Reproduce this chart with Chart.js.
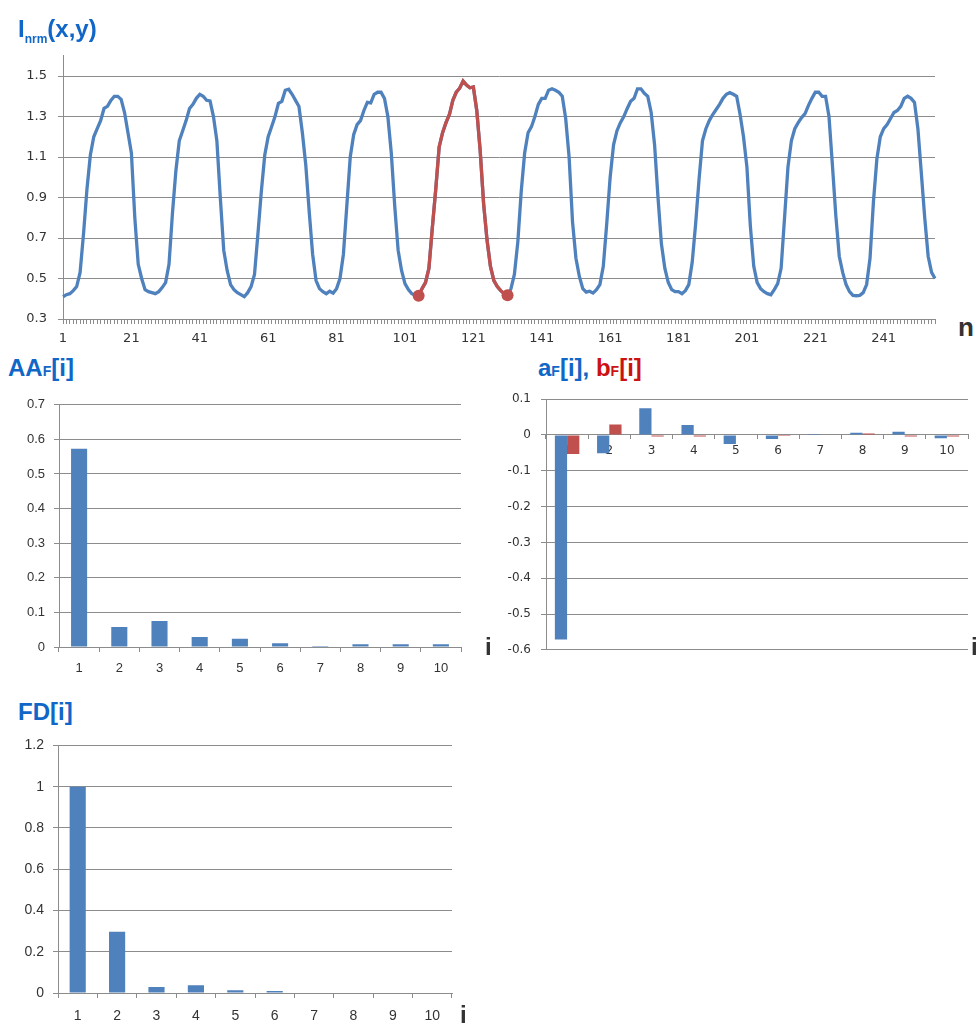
<!DOCTYPE html>
<html>
<head>
<meta charset="utf-8">
<title>Inrm / Fourier</title>
<script src="https://cdn.jsdelivr.net/npm/chart.js@4.4.1/dist/chart.umd.min.js"></script>
<style>
  html, body { margin: 0; padding: 0; background: #fff; }
  body { width: 977px; height: 1026px; position: relative; overflow: hidden; font-family: "Liberation Sans", Arial, sans-serif; }
  canvas { position: absolute; }
  .ttl { position: absolute; font-weight: bold; color: #1067c8; line-height: 1; white-space: nowrap; }
  .ttl .sm { font-size: 14px; }
  .ttl .red { color: #cc1111; }
  .ax { position: absolute; font-weight: bold; color: #333; font-size: 24px; line-height: 1; }
</style>
</head>
<body>

<canvas id="lineChart" width="945" height="312" style="left:0;top:37px"></canvas>
<canvas id="aaChart" width="471" height="289" style="left:0;top:388px"></canvas>
<canvas id="abChart" width="497" height="285" style="left:480px;top:382px"></canvas>
<canvas id="fdChart" width="462" height="295" style="left:0;top:728px"></canvas>

<div class="ttl" style="left:18px;top:17px;font-size:24px">I<span style="font-size:12px;position:relative;top:6px">nrm</span>(x,y)</div>
<div class="ax" style="left:958px;top:314px;font-size:26px">n</div>

<div class="ttl" style="left:8px;top:356px;font-size:24px">AA<span class="sm">F</span>[i]</div>
<div class="ttl" style="left:538px;top:356px;font-size:24px">a<span class="sm">F</span>[i], <span class="red">b<span class="sm">F</span>[i]</span></div>

<div class="ttl" style="left:18px;top:700px;font-size:24px">FD[i]</div>

<div class="ax" style="left:485px;top:635px">i</div>
<div class="ax" style="left:971px;top:635px">i</div>
<div class="ax" style="left:460px;top:1003px">i</div>

<script>
// Normalized intensity profile, n = 1..256
const lineLabels = Array.from({ length: 256 }, (_, i) => String(i + 1));
const lineValues = [
  0.41, 0.42, 0.425, 0.44, 0.46, 0.53, 0.72, 0.94, 1.11, 1.20,
  1.24, 1.28, 1.34, 1.35, 1.38, 1.40, 1.40, 1.385, 1.32, 1.22,
  1.12, 0.80, 0.57, 0.50, 0.445, 0.435, 0.43, 0.425, 0.435, 0.455,
  0.48, 0.57, 0.82, 1.03, 1.18, 1.23, 1.28, 1.34, 1.36, 1.39,
  1.41, 1.40, 1.38, 1.377, 1.30, 1.18, 0.90, 0.64, 0.54, 0.47,
  0.445, 0.43, 0.42, 0.41, 0.43, 0.46, 0.52, 0.72, 0.93, 1.11,
  1.20, 1.25, 1.30, 1.365, 1.375, 1.43, 1.435, 1.41, 1.38, 1.35,
  1.22, 1.06, 0.83, 0.62, 0.49, 0.45, 0.435, 0.425, 0.437, 0.428,
  0.45, 0.50, 0.62, 0.86, 1.10, 1.21, 1.26, 1.28, 1.33, 1.37,
  1.367, 1.41, 1.42, 1.42, 1.39, 1.30, 1.12, 0.86, 0.64, 0.54,
  0.475, 0.445, 0.425, 0.418, 0.415, 0.45, 0.48, 0.55, 0.75, 0.94,
  1.15, 1.22, 1.27, 1.31, 1.38, 1.42, 1.44, 1.475, 1.455, 1.442,
  1.446, 1.33, 1.13, 0.87, 0.69, 0.56, 0.49, 0.46, 0.44, 0.425,
  0.417, 0.45, 0.52, 0.68, 0.93, 1.12, 1.22, 1.25, 1.30, 1.36,
  1.39, 1.39, 1.43, 1.437, 1.43, 1.42, 1.40, 1.29, 1.10, 0.78,
  0.60, 0.51, 0.45, 0.433, 0.437, 0.428, 0.445, 0.47, 0.56, 0.77,
  1.00, 1.16, 1.23, 1.27, 1.30, 1.34, 1.375, 1.39, 1.437, 1.437,
  1.415, 1.40, 1.32, 1.16, 0.90, 0.67, 0.55, 0.48, 0.445, 0.435,
  0.435, 0.425, 0.44, 0.47, 0.58, 0.77, 0.99, 1.18, 1.24, 1.28,
  1.31, 1.335, 1.36, 1.39, 1.41, 1.418, 1.41, 1.40, 1.31, 1.20,
  1.05, 0.76, 0.56, 0.48, 0.45, 0.435, 0.425, 0.42, 0.445, 0.475,
  0.55, 0.80, 1.05, 1.18, 1.24, 1.27, 1.295, 1.314, 1.355, 1.39,
  1.42, 1.42, 1.40, 1.40, 1.30, 1.06, 0.81, 0.61, 0.53, 0.47,
  0.435, 0.417, 0.415, 0.417, 0.43, 0.47, 0.60, 0.88, 1.09, 1.20,
  1.24, 1.26, 1.29, 1.32, 1.33, 1.35, 1.39, 1.40, 1.39, 1.37,
  1.24, 1.02, 0.80, 0.61, 0.53, 0.50
];
// highlighted period (red), first and last n
const periodStart = 105;
const periodEnd = 131;
const lineYTicks = [0.3, 0.5, 0.7, 0.9, 1.1, 1.3, 1.5];

// Fourier coefficients, i = 1..10
const harmonics = ['1', '2', '3', '4', '5', '6', '7', '8', '9', '10'];
const aaValues = [0.573, 0.058, 0.075, 0.029, 0.024, 0.011, 0.003, 0.008, 0.008, 0.008];
const aValues = [-0.571, -0.051, 0.075, 0.028, -0.025, -0.011, 0.003, 0.006, 0.009, -0.009];
const bValues = [-0.053, 0.029, -0.004, -0.004, 0, -0.003, 0, 0.004, -0.004, -0.004];
const fdValues = [1.0, 0.297, 0.029, 0.037, 0.013, 0.010, 0.003, 0, 0.003, 0.003];
const aaTicks = [0, 0.1, 0.2, 0.3, 0.4, 0.5, 0.6, 0.7];
const abTicks = [-0.6, -0.5, -0.4, -0.3, -0.2, -0.1, 0, 0.1];
const fdTicks = [0, 0.2, 0.4, 0.6, 0.8, 1, 1.2];

const BLUE = '#4f81bd';
const RED = '#c0504d';
const GRID = '#8c8c8c';
const TEXT = '#333';

const fmt = v => String(Math.round(v * 100) / 100);

function yScale(ticks, min, max, width, font, pad) {
  return {
    min: min,
    max: max,
    afterBuildTicks: s => { s.ticks = ticks.map(v => ({ value: v })); },
    afterFit: s => { s.width = width; },
    grid: { color: GRID, lineWidth: 1, tickLength: 5 },
    border: { color: GRID, width: 1 },
    ticks: { color: TEXT, font: font, padding: pad, callback: fmt },
  };
}

Chart.defaults.animation = false;
Chart.defaults.plugins.legend.display = false;
Chart.defaults.plugins.tooltip.enabled = false;

// Line chart
const redData = lineValues.map((v, i) => (i + 1 >= periodStart && i + 1 <= periodEnd) ? v : null);
new Chart(document.getElementById('lineChart'), {
  type: 'line',
  data: {
    labels: lineLabels,
    datasets: [
      {
        data: redData,
        borderColor: RED,
        backgroundColor: RED,
        borderWidth: 3.3,
        tension: 0,
        pointRadius: ctx => (ctx.dataIndex + 1 === periodStart || ctx.dataIndex + 1 === periodEnd) ? 6 : 0,
        pointBorderWidth: 0,
        spanGaps: false,
      },
      {
        data: lineValues,
        borderColor: BLUE,
        borderWidth: 3.3,
        tension: 0,
        pointRadius: 0,
      },
    ],
  },
  options: {
    responsive: false,
    layout: { padding: { top: 2, right: 10, left: 0, bottom: 0 } },
    scales: {
      x: {
        afterFit: s => { s.height = 30; },
        grid: { display: true, drawOnChartArea: false, color: GRID, tickLength: 5 },
        border: { color: GRID, width: 1 },
        ticks: {
          autoSkip: false,
          maxRotation: 0,
          color: TEXT,
          font: { family: 'DejaVu Sans', size: 13 },
          padding: 7,
          callback: (v, i) => (i % 20 === 0 ? lineLabels[i] : ''),
        },
      },
      y: yScale(lineYTicks, 0.3, 1.6, 63, { family: 'DejaVu Sans', size: 13 }, 11),
    },
  },
});

// AA_F bar chart
new Chart(document.getElementById('aaChart'), {
  type: 'bar',
  data: {
    labels: harmonics,
    datasets: [{ data: aaValues, backgroundColor: BLUE, barPercentage: 0.4, categoryPercentage: 1 }],
  },
  options: {
    responsive: false,
    layout: { padding: { top: 2, right: 10, left: 0, bottom: 0 } },
    scales: {
      x: {
        afterFit: s => { s.height = 30; },
        grid: { offset: true, drawOnChartArea: false, color: GRID, tickLength: 5 },
        border: { color: GRID, width: 1 },
        ticks: { color: TEXT, font: { family: 'Liberation Sans', size: 13 }, padding: 9 },
      },
      y: yScale(aaTicks, 0, 0.7, 59, { family: 'Liberation Sans', size: 13 }, 9),
    },
  },
});

// a_F / b_F bar chart
new Chart(document.getElementById('abChart'), {
  type: 'bar',
  data: {
    labels: harmonics,
    datasets: [
      { data: aValues, backgroundColor: BLUE, barPercentage: 1, categoryPercentage: 0.58 },
      { data: bValues, backgroundColor: RED, barPercentage: 1, categoryPercentage: 0.58 },
    ],
  },
  options: {
    responsive: false,
    layout: { padding: { top: 2, right: 9, left: 0, bottom: 5 } },
    scales: {
      x: {
        position: { y: 0 },
        z: 1,
        grid: { offset: true, drawOnChartArea: false, color: GRID, tickLength: 4 },
        border: { color: GRID, width: 1 },
        ticks: { color: TEXT, font: { family: 'DejaVu Sans', size: 12 }, padding: 5 },
      },
      y: yScale(abTicks, -0.6, 0.1, 66, { family: 'DejaVu Sans', size: 12 }, 10),
    },
  },
});

// FD bar chart
new Chart(document.getElementById('fdChart'), {
  type: 'bar',
  data: {
    labels: harmonics,
    datasets: [{ data: fdValues, backgroundColor: BLUE, barPercentage: 0.41, categoryPercentage: 1 }],
  },
  options: {
    responsive: false,
    layout: { padding: { top: 2, right: 10, left: 0, bottom: 0 } },
    scales: {
      x: {
        afterFit: s => { s.height = 30; },
        grid: { offset: true, drawOnChartArea: false, color: GRID, tickLength: 5 },
        border: { color: GRID, width: 1 },
        ticks: { color: TEXT, font: { family: 'Liberation Sans', size: 14 }, padding: 10 },
      },
      y: yScale(fdTicks, 0, 1.2, 58, { family: 'Liberation Sans', size: 14 }, 9),
    },
  },
});
</script>
</body>
</html>
